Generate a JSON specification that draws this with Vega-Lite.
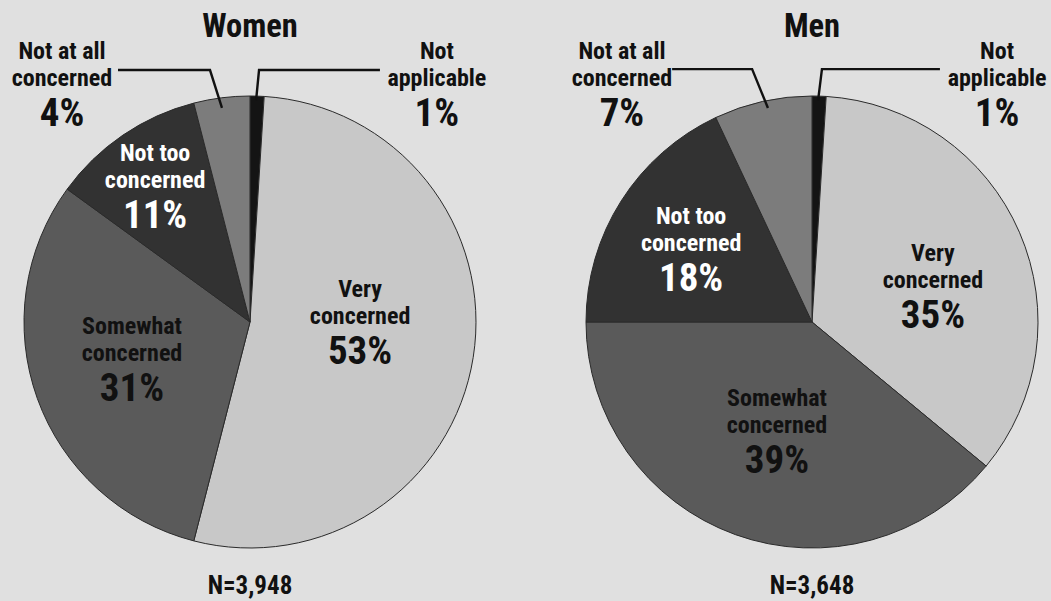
{
  "$schema": "https://vega.github.io/schema/vega-lite/v6.json",
  "background": "#e0e0e0",
  "padding": 0,
  "config": {"view": {"stroke": null}, "concat": {"spacing": 0}, "text": {"font": "Roboto Condensed, Liberation Sans Narrow, Arial Narrow, Liberation Sans, sans-serif"}},
  "datasets": {
    "slices": [
      {"gender": "Women", "category": "Not applicable", "name": "Not\napplicable", "share": 0.01, "idx": 0, "lx": 82.7, "ly": 116.4},
      {"gender": "Women", "category": "Very concerned", "name": "Very\nconcerned", "share": 0.53, "idx": 1, "lx": 48.7, "ly": 11.1},
      {"gender": "Women", "category": "Somewhat concerned", "name": "Somewhat\nconcerned", "share": 0.31, "idx": 2, "lx": -52.2, "ly": -5.3},
      {"gender": "Women", "category": "Not too concerned", "name": "Not too\nconcerned", "share": 0.11, "idx": 3, "lx": -42.0, "ly": 71.2},
      {"gender": "Women", "category": "Not at all concerned", "name": "Not at all\nconcerned", "share": 0.04, "idx": 4, "lx": -83.2, "ly": 116.4},
      {"gender": "Men", "category": "Not applicable", "name": "Not\napplicable", "share": 0.01, "idx": 0, "lx": 81.9, "ly": 116.4},
      {"gender": "Men", "category": "Very concerned", "name": "Very\nconcerned", "share": 0.35, "idx": 1, "lx": 53.5, "ly": 27.0},
      {"gender": "Men", "category": "Somewhat concerned", "name": "Somewhat\nconcerned", "share": 0.39, "idx": 2, "lx": -15.5, "ly": -37.2},
      {"gender": "Men", "category": "Not too concerned", "name": "Not too\nconcerned", "share": 0.18, "idx": 3, "lx": -53.5, "ly": 43.4},
      {"gender": "Men", "category": "Not at all concerned", "name": "Not at all\nconcerned", "share": 0.07, "idx": 4, "lx": -84.1, "ly": 116.4}
    ],
    "leaders": [
      {"gender": "Women", "line": "left", "seq": 0, "x": -58.4, "y": 111.5},
      {"gender": "Women", "line": "left", "seq": 1, "x": -17.7, "y": 111.5},
      {"gender": "Women", "line": "left", "seq": 2, "x": -12.4, "y": 94.7},
      {"gender": "Women", "line": "right", "seq": 0, "x": 57.5, "y": 111.5},
      {"gender": "Women", "line": "right", "seq": 1, "x": 4.0, "y": 111.5},
      {"gender": "Women", "line": "right", "seq": 2, "x": 2.7, "y": 98.2},
      {"gender": "Men", "line": "left", "seq": 0, "x": -61.9, "y": 111.9},
      {"gender": "Men", "line": "left", "seq": 1, "x": -26.5, "y": 111.9},
      {"gender": "Men", "line": "left", "seq": 2, "x": -19.5, "y": 94.7},
      {"gender": "Men", "line": "right", "seq": 0, "x": 56.6, "y": 111.9},
      {"gender": "Men", "line": "right", "seq": 1, "x": 4.4, "y": 111.9},
      {"gender": "Men", "line": "right", "seq": 2, "x": 2.7, "y": 98.2}
    ],
    "panels": [
      {"gender": "Women", "n_label": "N=3,948"},
      {"gender": "Men", "n_label": "N=3,648"}
    ]
  },
  "hconcat": [
    {
      "width": 531,
      "height": 601,
      "layer": [
        {
          "data": {"name": "slices"},
          "transform": [{"filter": "datum.gender === 'Women'"}],
          "mark": {"type": "arc", "outerRadius": 226, "stroke": "#2a2a2a", "strokeWidth": 1},
          "encoding": {
            "x": {"datum": 0, "type": "quantitative", "scale": {"domain": [-110.62, 124.34], "nice": false, "zero": false}, "axis": null},
            "y": {"datum": 0, "type": "quantitative", "scale": {"domain": [-123.45, 142.48], "nice": false, "zero": false}, "axis": null},
            "theta": {"field": "share", "type": "quantitative", "stack": true},
            "order": {"field": "idx", "type": "quantitative"},
            "color": {"field": "category", "type": "nominal", "legend": null,
              "scale": {"domain": ["Not applicable", "Very concerned", "Somewhat concerned", "Not too concerned", "Not at all concerned"],
                        "range": ["#141414", "#c8c8c8", "#5a5a5a", "#323232", "#7c7c7c"]}}
          }
        },
        {
          "data": {"name": "leaders"},
          "transform": [{"filter": "datum.gender === 'Women'"}],
          "mark": {"type": "line", "color": "#111111", "strokeWidth": 2.4},
          "encoding": {
            "x": {"field": "x", "type": "quantitative"},
            "y": {"field": "y", "type": "quantitative"},
            "detail": {"field": "line"},
            "order": {"field": "seq", "type": "quantitative"}
          }
        },
        {
          "data": {"name": "slices"},
          "transform": [{"filter": "datum.gender === 'Women'"}],
          "mark": {"type": "text", "fontSize": 24, "fontWeight": "bold", "lineBreak": "\n", "lineHeight": 27, "align": "center", "baseline": "alphabetic"},
          "encoding": {
            "x": {"field": "lx", "type": "quantitative"},
            "y": {"field": "ly", "type": "quantitative"},
            "text": {"field": "name", "type": "nominal"},
            "color": {"condition": {"test": "datum.category === 'Not too concerned'", "value": "#ffffff"}, "value": "#111111"}
          }
        },
        {
          "data": {"name": "slices"},
          "transform": [{"filter": "datum.gender === 'Women'"}],
          "mark": {"type": "text", "fontSize": 39, "fontWeight": "bold", "align": "center", "baseline": "alphabetic", "dy": 67},
          "encoding": {
            "x": {"field": "lx", "type": "quantitative"},
            "y": {"field": "ly", "type": "quantitative"},
            "text": {"field": "share", "type": "quantitative", "format": ".0%"},
            "color": {"condition": {"test": "datum.category === 'Not too concerned'", "value": "#ffffff"}, "value": "#111111"}
          }
        },
        {
          "data": {"name": "panels"},
          "transform": [{"filter": "datum.gender === 'Women'"}],
          "mark": {"type": "text", "fontSize": 32.5, "fontWeight": "bold", "align": "center", "baseline": "alphabetic", "color": "#111111"},
          "encoding": {
            "x": {"datum": 0, "type": "quantitative"},
            "y": {"datum": 126.1, "type": "quantitative"},
            "text": {"field": "gender", "type": "nominal"}
          }
        },
        {
          "data": {"name": "panels"},
          "transform": [{"filter": "datum.gender === 'Women'"}],
          "mark": {"type": "text", "fontSize": 25, "fontWeight": "bold", "align": "center", "baseline": "alphabetic", "color": "#111111"},
          "encoding": {
            "x": {"datum": 0, "type": "quantitative"},
            "y": {"datum": -120.4, "type": "quantitative"},
            "text": {"field": "n_label", "type": "nominal"}
          }
        }
      ]
    },
    {
      "width": 520,
      "height": 601,
      "layer": [
        {
          "data": {"name": "slices"},
          "transform": [{"filter": "datum.gender === 'Men'"}],
          "mark": {"type": "arc", "outerRadius": 226, "stroke": "#2a2a2a", "strokeWidth": 1},
          "encoding": {
            "x": {"datum": 0, "type": "quantitative", "scale": {"domain": [-124.34, 105.75], "nice": false, "zero": false}, "axis": null},
            "y": {"datum": 0, "type": "quantitative", "scale": {"domain": [-123.45, 142.48], "nice": false, "zero": false}, "axis": null},
            "theta": {"field": "share", "type": "quantitative", "stack": true},
            "order": {"field": "idx", "type": "quantitative"},
            "color": {"field": "category", "type": "nominal", "legend": null,
              "scale": {"domain": ["Not applicable", "Very concerned", "Somewhat concerned", "Not too concerned", "Not at all concerned"],
                        "range": ["#141414", "#c8c8c8", "#5a5a5a", "#323232", "#7c7c7c"]}}
          }
        },
        {
          "data": {"name": "leaders"},
          "transform": [{"filter": "datum.gender === 'Men'"}],
          "mark": {"type": "line", "color": "#111111", "strokeWidth": 2.4},
          "encoding": {
            "x": {"field": "x", "type": "quantitative"},
            "y": {"field": "y", "type": "quantitative"},
            "detail": {"field": "line"},
            "order": {"field": "seq", "type": "quantitative"}
          }
        },
        {
          "data": {"name": "slices"},
          "transform": [{"filter": "datum.gender === 'Men'"}],
          "mark": {"type": "text", "fontSize": 24, "fontWeight": "bold", "lineBreak": "\n", "lineHeight": 27, "align": "center", "baseline": "alphabetic"},
          "encoding": {
            "x": {"field": "lx", "type": "quantitative"},
            "y": {"field": "ly", "type": "quantitative"},
            "text": {"field": "name", "type": "nominal"},
            "color": {"condition": {"test": "datum.category === 'Not too concerned'", "value": "#ffffff"}, "value": "#111111"}
          }
        },
        {
          "data": {"name": "slices"},
          "transform": [{"filter": "datum.gender === 'Men'"}],
          "mark": {"type": "text", "fontSize": 39, "fontWeight": "bold", "align": "center", "baseline": "alphabetic", "dy": 67},
          "encoding": {
            "x": {"field": "lx", "type": "quantitative"},
            "y": {"field": "ly", "type": "quantitative"},
            "text": {"field": "share", "type": "quantitative", "format": ".0%"},
            "color": {"condition": {"test": "datum.category === 'Not too concerned'", "value": "#ffffff"}, "value": "#111111"}
          }
        },
        {
          "data": {"name": "panels"},
          "transform": [{"filter": "datum.gender === 'Men'"}],
          "mark": {"type": "text", "fontSize": 32.5, "fontWeight": "bold", "align": "center", "baseline": "alphabetic", "color": "#111111"},
          "encoding": {
            "x": {"datum": 0, "type": "quantitative"},
            "y": {"datum": 126.1, "type": "quantitative"},
            "text": {"field": "gender", "type": "nominal"}
          }
        },
        {
          "data": {"name": "panels"},
          "transform": [{"filter": "datum.gender === 'Men'"}],
          "mark": {"type": "text", "fontSize": 25, "fontWeight": "bold", "align": "center", "baseline": "alphabetic", "color": "#111111"},
          "encoding": {
            "x": {"datum": 0, "type": "quantitative"},
            "y": {"datum": -120.4, "type": "quantitative"},
            "text": {"field": "n_label", "type": "nominal"}
          }
        }
      ]
    }
  ]
}
